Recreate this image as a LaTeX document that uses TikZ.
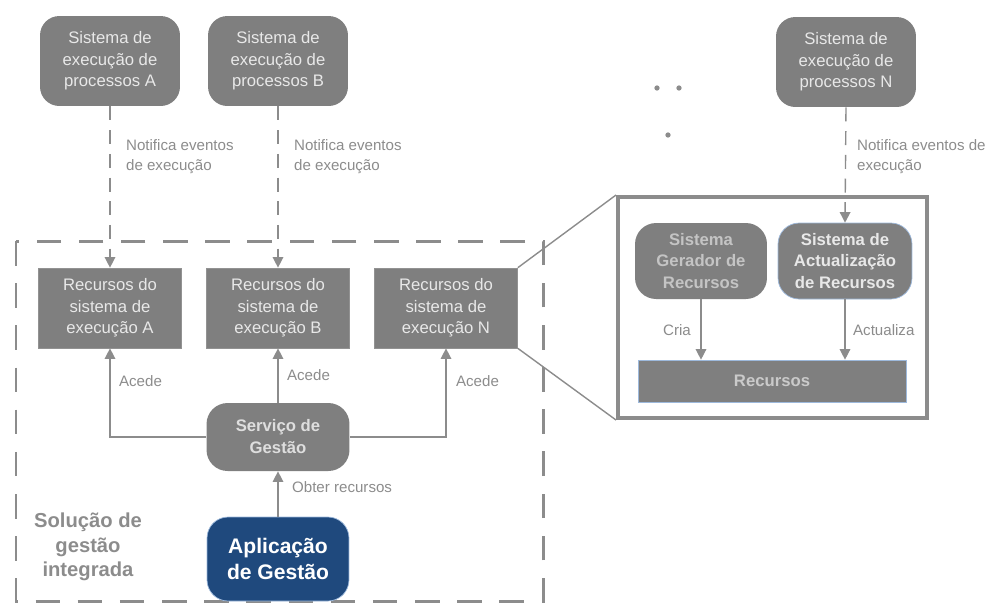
\documentclass[tikz,border=0pt]{standalone}
\usepackage{fontspec}
\setmainfont{Liberation Sans}
\usetikzlibrary{arrows.meta,positioning}
\definecolor{boxgray}{HTML}{7F7F7F}
\definecolor{linegray}{HTML}{8C8C8C}
\definecolor{txtlight}{HTML}{E8E8E8}
\definecolor{txtmid}{HTML}{C4C4C4}
\definecolor{appblue}{HTML}{1F497D}
\definecolor{edgeblue}{HTML}{9DB9DC}
\tikzset{
  sysbox/.style  = {rectangle, rounded corners=11pt, fill=boxgray,
                    text=txtlight, align=center, minimum width=2.8cm,
                    minimum height=1.8cm, font=\fontsize{9.5}{12.3}\selectfont},
  resbox/.style  = {rectangle, fill=boxgray, draw=boxgray!85, text=txtlight,
                    align=center, minimum width=2.86cm, minimum height=1.6cm,
                    font=\fontsize{9.5}{12.3}\selectfont},
  srvbox/.style  = {rectangle, rounded corners=12pt, fill=boxgray,
                    text=txtlight!90!gray, align=center, minimum width=2.86cm,
                    minimum height=1.36cm, font=\bfseries\fontsize{9.5}{12.5}\selectfont},
  appbox/.style  = {rectangle, rounded corners=12pt, fill=appblue,
                    draw=edgeblue, text=white, align=center,
                    minimum width=2.84cm, minimum height=1.68cm,
                    font=\bfseries\fontsize{12}{14.5}\selectfont},
  genbox/.style  = {rectangle, rounded corners=12pt, fill=boxgray,
                    align=center, minimum width=2.64cm, minimum height=1.52cm,
                    font=\bfseries\fontsize{9.5}{12.3}\selectfont},
  lbl/.style     = {text=linegray, align=left, inner sep=1pt,
                    font=\fontsize{8.6}{11.3}\selectfont},
  arr/.style     = {-{Triangle[length=6pt,width=6pt]}, line width=0.8pt, draw=linegray},
  darr/.style    = {arr, dash pattern=on 8pt off 5.5pt},
  group/.style   = {draw=linegray, line width=1.7pt, dash pattern=on 14pt off 10pt},
  zoombox/.style = {rectangle, draw=linegray, line width=2.3pt, fill=white,
                    minimum width=6.18cm, minimum height=4.42cm},
  dot/.style     = {circle, fill=linegray, inner sep=0pt, minimum size=3pt},
}
\begin{document}
\begin{tikzpicture}[x=0.02cm, y=-0.02cm]
\useasboundingbox (0,0) rectangle (987,603);

%% Integrated solution frame
\draw[group] (16,241) rectangle (543,601);

%% Process execution systems
\node[sysbox] (sysA) at (110,61) {Sistema de\\execução de\\processos A};
\node[sysbox] (sysB) at (278,61) {Sistema de\\execução de\\processos B};
\node[sysbox] (sysN) at (846,62) {Sistema de\\execução de\\processos N};

\node[dot] (d1) at (657,88) {};
\node[dot] (d2) at (679,88) {};
\node[dot] (d3) at (668,135) {};

%% Resources per system
\node[resbox] (resA) at (110,308) {Recursos do\\sistema de\\execução A};
\node[resbox] (resB) at (278,308) {Recursos do\\sistema de\\execução B};
\node[resbox] (resN) at (446,308) {Recursos do\\sistema de\\execução N};

%% Management
\node[srvbox] (serv) at (278,437) {Serviço de\\Gestão};
\node[appbox] (app)  at (278,559) {Aplicação\\de Gestão};
\node[text=linegray, align=center, font=\bfseries\fontsize{11.5}{14}\selectfont]
  (sol) at (88,547) {Solução de\\gestão\\integrada};

%% Detail of resources
\node[zoombox] (zoom) at (772.5,307.5) {};
\node[genbox, text=txtmid] (gen) at (701,261) {Sistema\\Gerador de\\Recursos};
\node[genbox, draw=edgeblue, text=txtlight, minimum width=2.68cm]
  (act) at (845,261) {Sistema de\\Actualização\\de Recursos};
\node[rectangle, fill=boxgray, draw=edgeblue, text=txtmid!90!white,
      minimum width=5.36cm, minimum height=0.84cm,
      font=\bfseries\fontsize{9.5}{12}\selectfont] (rec) at (772,381) {Recursos};

\draw[line width=0.8pt, draw=linegray] (resN.north east) -- (zoom.north west);
\draw[line width=0.8pt, draw=linegray] (resN.south east) -- (zoom.south west);

\draw[darr] (sysA) -- (resA);
\draw[darr] (sysB) -- (resB);
\draw[darr] (sysN.south) -- (act.north);

\draw[arr] (serv) -- (resB);
\draw[arr] (serv.west) -| (resA.south);
\draw[arr] (serv.east) -| (resN.south);
\draw[arr] (app) -- (serv);
\draw[arr] (gen.south) -- (gen.south |- rec.north);
\draw[arr] (act.south) -- (act.south |- rec.north);

%% Labels
\node[lbl, anchor=west] (nA) at (124,157) {Notifica eventos\\de execução};
\node[lbl, anchor=west] (nB) at (292,157) {Notifica eventos\\de execução};
\node[lbl, anchor=west] (nN) at (855,157) {Notifica eventos de\\execução};
\node[lbl, anchor=west] (aA) at (117,381) {Acede};
\node[lbl, anchor=west] (aB) at (285,375) {Acede};
\node[lbl, anchor=west] (aN) at (454,381) {Acede};
\node[lbl, anchor=west] (ob) at (290,487) {Obter recursos};
\node[lbl, anchor=east] (cr) at (693,330) {Cria};
\node[lbl, anchor=west] (up) at (851,330) {Actualiza};

\end{tikzpicture}
\end{document}
